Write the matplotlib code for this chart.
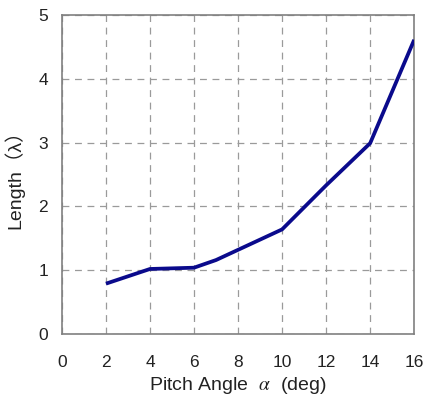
import matplotlib
matplotlib.use("Agg")
import matplotlib.pyplot as plt

pitch_angle = [2, 4, 6, 7, 8, 10, 12, 14, 16]
length = [0.79, 1.02, 1.04, 1.16, 1.32, 1.64, 2.33, 2.99, 4.61]
x_ticks = [0, 2, 4, 6, 8, 10, 12, 14, 16]
y_ticks = [0, 1, 2, 3, 4, 5]

plt.rcParams['font.family'] = ['Liberation Sans', 'Noto Sans CJK SC', 'DejaVu Sans']
plt.rcParams['mathtext.fontset'] = 'stix'

fig = plt.figure(figsize=(4.27, 4.03), dpi=100)
ax = fig.add_axes([0.145, 0.171, 0.825, 0.792])
ax.plot(pitch_angle, length, color='#0a0a8c', linewidth=2.7, solid_capstyle='butt', zorder=3)
ax.set_xlim(0, 16)
ax.set_ylim(0, 5)
ax.set_xticks(x_ticks)
ax.set_yticks(y_ticks)
ax.tick_params(length=0, labelsize=12.5, colors='#222222')
ax.tick_params(axis='x', pad=15)
ax.tick_params(axis='y', pad=10)
ax.grid(True, linestyle=(0, (5.5, 4.5)), color='#9a9a9a', linewidth=0.9)
for s in ax.spines.values():
    s.set_color('#808080')
    s.set_linewidth(1.2)
ax.set_xlabel('Pitch Angle  $\\alpha$  (deg)', fontsize=14, color='#222222', labelpad=4)
ax.set_ylabel('Length（λ）', fontsize=14, color='#222222', labelpad=10)
fig.savefig('out.png', dpi=100)
